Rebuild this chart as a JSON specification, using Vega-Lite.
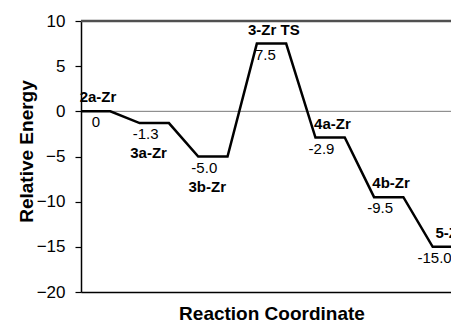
{
  "$schema": "https://vega.github.io/schema/vega-lite/v6.json",
  "width": 381,
  "height": 271,
  "autosize": {"type": "none"},
  "padding": {"left": 81, "top": 21, "right": 0, "bottom": 30},
  "background": "white",
  "config": {
    "font": "Liberation Sans",
    "view": {"stroke": null}
  },
  "datasets": {
    "levels": [
      {"state": "2a-Zr", "energy": 0, "label": "0", "start": 0, "end": 1},
      {"state": "3a-Zr", "energy": -1.3, "label": "-1.3", "start": 2, "end": 3},
      {"state": "3b-Zr", "energy": -5.0, "label": "-5.0", "start": 4, "end": 5},
      {"state": "3-Zr TS", "energy": 7.5, "label": "7.5", "start": 6, "end": 7},
      {"state": "4a-Zr", "energy": -2.9, "label": "-2.9", "start": 8, "end": 9},
      {"state": "4b-Zr", "energy": -9.5, "label": "-9.5", "start": 10, "end": 11},
      {"state": "5-Zr", "energy": -15.0, "label": "-15.0", "start": 12, "end": 13}
    ],
    "guides": [{"level": 0, "kind": "zero"}, {"level": 10, "kind": "top"}]
  },
  "data": {"name": "levels"},
  "layer": [
    {
      "data": {"name": "guides"},
      "transform": [{"filter": "datum.kind === 'zero'"}],
      "mark": {"type": "rule", "color": "#7a7a7a", "strokeWidth": 1},
      "encoding": {
        "y": {"field": "level", "type": "quantitative", "title": "Relative Energy"}
      }
    },
    {
      "data": {"name": "guides"},
      "transform": [{"filter": "datum.kind === 'top'"}],
      "mark": {"type": "rule", "color": "#505050", "strokeWidth": 2.4},
      "encoding": {
        "y": {"field": "level", "type": "quantitative", "title": "Relative Energy"}
      }
    },
    {
      "transform": [{"fold": ["start", "end"], "as": ["edge", "coord"]}],
      "mark": {"type": "line", "color": "black", "strokeWidth": 2.5, "strokeJoin": "miter"},
      "encoding": {
        "x": {
          "field": "coord",
          "type": "quantitative",
          "scale": {"domain": [0, 13], "nice": false, "zero": false},
          "title": "Reaction Coordinate",
          "axis": {
            "labels": false,
            "ticks": false,
            "grid": false,
            "domainColor": "black",
            "domainWidth": 1.5,
            "titleFontSize": 19,
            "titleFontWeight": "bold",
            "titleColor": "black",
            "titleY": 27,
            "titleBaseline": "alphabetic"
          }
        },
        "y": {
          "field": "energy",
          "type": "quantitative",
          "scale": {"domain": [-20, 10], "nice": false},
          "title": "Relative Energy",
          "axis": {
            "values": [-20, -15, -10, -5, 0, 5, 10],
            "grid": false,
            "domainColor": "black",
            "domainWidth": 1.5,
            "tickColor": "black",
            "tickSize": 6,
            "tickWidth": 1.2,
            "labelFontSize": 17,
            "labelColor": "black",
            "labelPadding": 10,
            "titleFontSize": 19,
            "titleFontWeight": "bold",
            "titleColor": "black",
            "titleAngle": -90,
            "titleAlign": "center",
            "titleBaseline": "alphabetic",
            "titleX": -49,
            "titleY": 130
          }
        },
        "order": {"field": "coord", "type": "quantitative"}
      }
    },
    {
      "mark": {"type": "text", "align": "right", "baseline": "middle", "dx": 19, "dy": 11, "fontSize": 15, "color": "black"},
      "encoding": {
        "x": {"field": "start", "type": "quantitative", "title": "Reaction Coordinate"},
        "y": {"field": "energy", "type": "quantitative", "title": "Relative Energy"},
        "text": {"field": "label"}
      }
    },
    {
      "transform": [{"filter": "datum.state !== '3a-Zr' && datum.state !== '3b-Zr'"}],
      "mark": {"type": "text", "align": "center", "baseline": "middle", "dx": 17, "dy": -14, "fontSize": 15, "fontWeight": "bold", "color": "black"},
      "encoding": {
        "x": {"field": "start", "type": "quantitative", "title": "Reaction Coordinate"},
        "y": {"field": "energy", "type": "quantitative", "title": "Relative Energy"},
        "text": {"field": "state"}
      }
    },
    {
      "transform": [{"filter": "datum.state === '3a-Zr' || datum.state === '3b-Zr'"}],
      "mark": {"type": "text", "align": "center", "baseline": "middle", "dx": 9, "dy": 30, "fontSize": 15, "fontWeight": "bold", "color": "black"},
      "encoding": {
        "x": {"field": "start", "type": "quantitative", "title": "Reaction Coordinate"},
        "y": {"field": "energy", "type": "quantitative", "title": "Relative Energy"},
        "text": {"field": "state"}
      }
    }
  ]
}
